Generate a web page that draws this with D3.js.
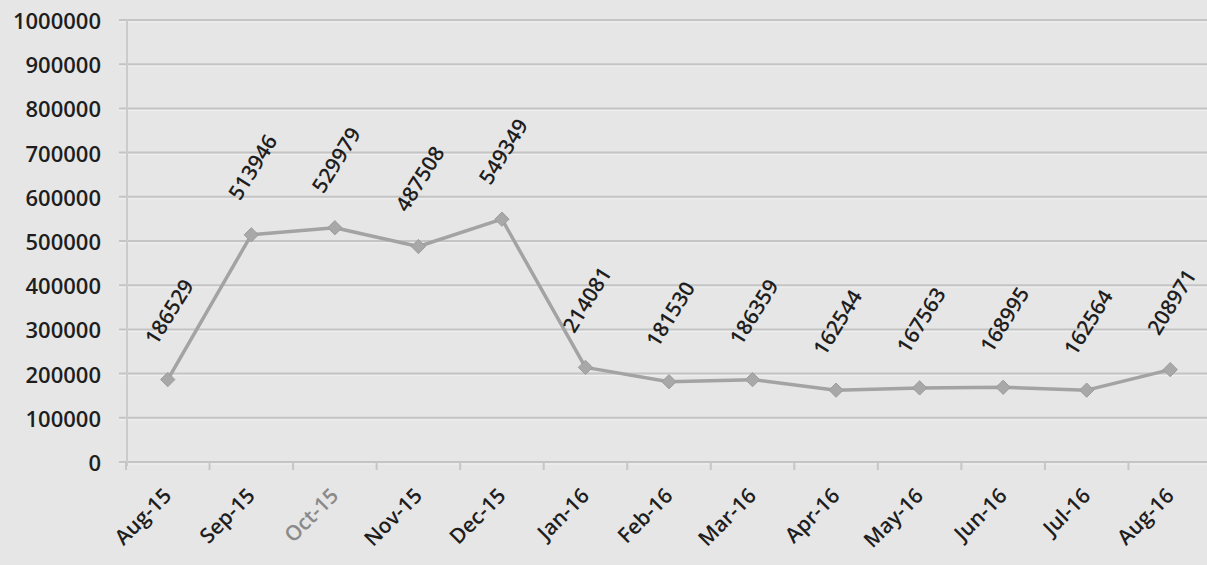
<!DOCTYPE html>
<html><head><meta charset="utf-8">
<script src="https://cdn.jsdelivr.net/npm/d3@7"></script>
<style>
html,body{margin:0;padding:0;background:#e6e6e6;}
svg{display:block;}
text{font-family:"Open Sans",sans-serif;}
</style></head>
<body>
<svg id="c" width="1207" height="565"></svg>
<script>
const categories = ["Aug-15","Sep-15","Oct-15","Nov-15","Dec-15","Jan-16","Feb-16","Mar-16","Apr-16","May-16","Jun-16","Jul-16","Aug-16"];
const values = [186529,513946,529979,487508,549349,214081,181530,186359,162544,167563,168995,162564,208971];
const yTicks = [0,100000,200000,300000,400000,500000,600000,700000,800000,900000,1000000];

const svg = d3.select("#c");
svg.append("rect").attr("width",1207).attr("height",565).attr("fill","#e6e6e6");

const x = d3.scaleBand().domain(categories).range([126, 1212]);
const y = d3.scaleLinear().domain([0, 1000000]).range([462, 20]);

// gridlines
const grid = svg.append("g");
grid.selectAll("line.g").data(yTicks).join("line")
  .attr("x1", 119).attr("x2", 1207)
  .attr("y1", d => y(d)).attr("y2", d => y(d))
  .attr("stroke", "#c4c4c4").attr("stroke-width", 2);
grid.selectAll("line.h").data(yTicks).join("line")
  .attr("x1", 119).attr("x2", 1207)
  .attr("y1", d => y(d)+2).attr("y2", d => y(d)+2)
  .attr("stroke", "#f0f0f0").attr("stroke-width", 1);

// y axis line
svg.append("line").attr("x1",127).attr("x2",127).attr("y1",y(1000000)).attr("y2",y(0)+4)
  .attr("stroke","#cbcbcb").attr("stroke-width",2);

// y labels
svg.append("g").selectAll("text").data(yTicks).join("text")
  .attr("x", 101).attr("y", d => y(d))
  .attr("text-anchor","end").attr("dominant-baseline","central")
  .attr("font-size", 22).attr("font-weight", 600).attr("fill","#1e1e1e")
  .text(d => d);

// x axis ticks at band boundaries
const bounds = categories.map(c => x(c)).concat([x(categories[categories.length-1]) + x.bandwidth()]);
svg.append("g").selectAll("line").data(bounds).join("line")
  .attr("x1", d => d).attr("x2", d => d)
  .attr("y1", y(0)).attr("y2", y(0)+8)
  .attr("stroke","#c6c6c6").attr("stroke-width",2);

// x labels
const cx = c => x(c) + x.bandwidth()/2;
svg.append("g").selectAll("text").data(categories).join("text")
  .attr("text-anchor","end")
  .attr("transform", d => `translate(${cx(d)+5},${497}) rotate(-45)`)
  .attr("font-size", 21).attr("font-weight", 600)
  .attr("fill", d => d === "Oct-15" ? "#8a8a8a" : "#1e1e1e")
  .text(d => d);

// line
const data = categories.map((c,i) => ({c, v: values[i]}));
svg.append("path").datum(data)
  .attr("fill","none").attr("stroke","#a3a3a3").attr("stroke-width",3.5)
  .attr("stroke-linejoin","round")
  .attr("d", d3.line().x(d => cx(d.c)).y(d => y(d.v)));

// markers
svg.append("g").selectAll("path").data(data).join("path")
  .attr("transform", d => `translate(${cx(d.c)},${y(d.v)})`)
  .attr("d", d3.symbol(d3.symbolDiamond2, 130))
  .attr("fill","#a8a8a8").attr("stroke","#9c9c9c").attr("stroke-width",1);

// data labels
svg.append("g").selectAll("text").data(data).join("text")
  .attr("text-anchor","middle").attr("dominant-baseline","central")
  .attr("transform", d => `translate(${cx(d.c)+1},${y(d.v)-68}) rotate(-58)`)
  .attr("font-size", 21).attr("font-weight", 600).attr("fill","#1e1e1e")
  .text(d => d.v);
</script>
</body></html>
